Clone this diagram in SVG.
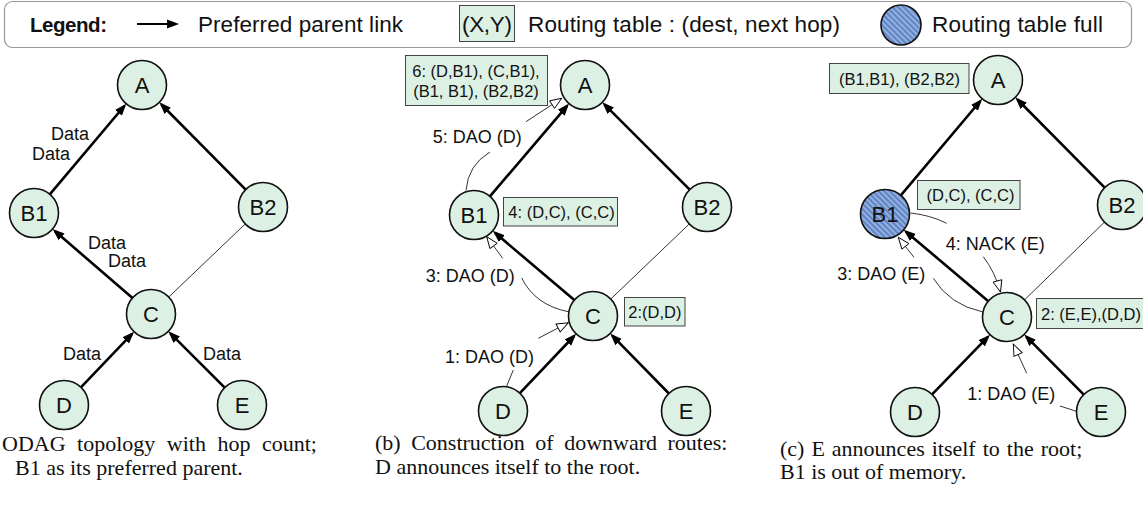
<svg xmlns="http://www.w3.org/2000/svg" width="1143" height="506" viewBox="0 0 1143 506">
<defs>
<style>
.node circle{fill:#ddf0e4;stroke:#111;stroke-width:1.6}
.node text{font-family:"Liberation Sans",Arial,sans-serif;font-size:22px;text-anchor:middle;fill:#111}
.full circle{fill:url(#hatch)}
.pp{stroke:#000;stroke-width:2.6;fill:none;marker-end:url(#fa)}
.thin{stroke:#000;stroke-width:0.8;fill:none}
.msg{stroke:#000;stroke-width:0.8;fill:none}
.msga{marker-end:url(#ha)}
.lbl{font-family:"Liberation Sans",Arial,sans-serif;font-size:18px;fill:#111}
.tbl rect{fill:#ddf0e4;stroke:#444;stroke-width:1}
.tbl text{font-family:"Liberation Sans",Arial,sans-serif;font-size:16.5px;fill:#111}
.cap{font-family:"Liberation Serif","Times New Roman",serif;font-size:22px;fill:#111}
.leg{font-family:"Liberation Sans",Arial,sans-serif;font-size:22.5px;fill:#111}
</style>
<marker id="fa" markerUnits="userSpaceOnUse" markerWidth="13" markerHeight="10" refX="9" refY="5" orient="auto"><path d="M0,0.5 L12,5 L0,9.5 Z" fill="#000"/></marker>
<marker id="ha" markerUnits="userSpaceOnUse" markerWidth="14" markerHeight="11" refX="12.5" refY="5.5" orient="auto"><path d="M1,1 L12.5,5.5 L1,10 Z" fill="#fff" stroke="#000" stroke-width="0.9"/></marker>
<pattern id="hatch" patternUnits="userSpaceOnUse" width="4" height="4" patternTransform="rotate(45)"><rect width="4" height="4" fill="#8db1ec"/><line x1="0" y1="2" x2="4" y2="2" stroke="#2a3d66" stroke-width="0.8"/></pattern>
</defs>
<rect width="1143" height="506" fill="#fff"/>

<g id="legend">
<rect x="4.5" y="1.5" width="1127" height="46" rx="8" fill="#fff" stroke="#999" stroke-width="1.2"/>
<text x="30" y="32" font-family="Liberation Sans, Arial, sans-serif" font-size="20.5" font-weight="bold" fill="#111" textLength="77">Legend:</text>
<line x1="137" y1="24" x2="176" y2="24" stroke="#000" stroke-width="2" marker-end="url(#fa)"/>
<text class="leg" x="198" y="32" textLength="205">Preferred parent link</text>
<rect x="459.5" y="5.5" width="55" height="36" fill="#ddf0e4" stroke="#444"/>
<text class="leg" x="462" y="32" textLength="50">(X,Y)</text>
<text class="leg" x="528" y="32" textLength="312">Routing table : (dest, next hop)</text>
<circle cx="901" cy="25" r="20" fill="url(#hatch)" stroke="#111" stroke-width="1.6"/>
<text class="leg" x="932" y="32" textLength="171">Routing table full</text>
</g>

<g id="connectors">
<line class="pp" x1="49.8" y1="194.3" x2="124.3" y2="106"/>
<line class="pp" x1="245.7" y1="189.6" x2="161.4" y2="104.5"/>
<line class="pp" x1="132.5" y1="298" x2="54.8" y2="231"/>
<line class="thin" x1="168.7" y1="297.1" x2="245.3" y2="223.9"/>
<line class="pp" x1="80.9" y1="387.3" x2="132" y2="333.9"/>
<line class="pp" x1="224.7" y1="387.7" x2="170.4" y2="333.4"/>
<line class="pp" x1="489.9" y1="196.4" x2="567.1" y2="105.9"/>
<line class="pp" x1="689.7" y1="189.7" x2="604.4" y2="104.4"/>
<line class="pp" x1="574.3" y1="300.1" x2="495" y2="232.8"/>
<line class="thin" x1="610.7" y1="299.1" x2="689.3" y2="223.9"/>
<line class="pp" x1="519.9" y1="393.2" x2="574.1" y2="336"/>
<line class="pp" x1="668.9" y1="393.5" x2="612.3" y2="335.7"/>
<path class="msg" d="M506.7,386 L513.3,370"/>
<path class="msg msga" d="M538.3,338.3 L568.3,322.7"/>
<path class="msg" d="M521.7,278 Q535,305 568.3,311.7"/>
<path class="msg msga" d="M502.7,258.3 L486.7,236.7"/>
<path class="msg" d="M466,190.5 Q468,165 490,152"/>
<path class="msg msga" d="M526,121.7 L561.7,98.3"/>
<line class="pp" x1="900.8" y1="195.3" x2="980.3" y2="101"/>
<line class="pp" x1="1104.7" y1="187.6" x2="1017.4" y2="99.5"/>
<line class="pp" x1="988.3" y1="301.2" x2="906" y2="231.7"/>
<line class="thin" x1="1024.5" y1="299.9" x2="1104.5" y2="222.1"/>
<line class="pp" x1="932.1" y1="394.4" x2="987.9" y2="336.8"/>
<line class="pp" x1="1083.8" y1="394.6" x2="1026.3" y2="336.6"/>
<path class="msg" d="M1077,411.5 L1060,406"/>
<path class="msg msga" d="M1026.7,373.3 L1013.3,344"/>
<path class="msg" d="M933.3,278.3 Q950,305 982,311.7"/>
<path class="msg msga" d="M914,257.3 L898.3,237.3"/>
<path class="msg" d="M910.5,213 Q930,215 946.7,223.3"/>
<path class="msg msga" d="M983.3,256.7 Q995,272 1000.5,292"/>
</g>

<g id="labels">
<text class="lbl" x="51" y="140">Data</text>
<text class="lbl" x="32" y="160">Data</text>
<text class="lbl" x="88" y="249">Data</text>
<text class="lbl" x="108" y="267">Data</text>
<text class="lbl" x="63" y="360">Data</text>
<text class="lbl" x="203" y="360">Data</text>
<text class="lbl" x="432.7" y="143.3">5: DAO (D)</text>
<text class="lbl" x="425.7" y="281.7">3: DAO (D)</text>
<text class="lbl" x="445" y="362.7">1: DAO (D)</text>
<text class="lbl" x="945.7" y="250">4: NACK (E)</text>
<text class="lbl" x="837.3" y="280">3: DAO (E)</text>
<text class="lbl" x="967.3" y="400">1: DAO (E)</text>
</g>

<g id="tables" class="tbl">
<g id="tb-b-A"><rect x="405.5" y="55.5" width="142" height="50"/><text x="476" y="77" text-anchor="middle">6: (D,B1), (C,B1),</text><text x="476" y="97" text-anchor="middle">(B1, B1), (B2,B2)</text></g>
<g id="tb-b-B1"><rect x="503.5" y="197.5" width="114" height="28.5"/><text x="508.3" y="217.8">4: (D,C), (C,C)</text></g>
<g id="tb-b-C"><rect x="624.5" y="297.5" width="60.5" height="28.5"/><text x="628.3" y="317.8">2:(D,D)</text></g>
<g id="tb-c-A"><rect x="829.5" y="63.5" width="139.5" height="30"/><text x="839" y="84.5">(B1,B1), (B2,B2)</text></g>
<g id="tb-c-B1"><rect x="917.5" y="180.5" width="102.5" height="29"/><text x="926.5" y="201">(D,C), (C,C)</text></g>
<g id="tb-c-C"><rect x="1036.5" y="298.5" width="110" height="30"/><text x="1041" y="319.5">2: (E,E),(D,D)</text></g>
</g>

<g id="a-A" class="node"><circle cx="142" cy="85" r="24.5"/><text x="142" y="93">A</text></g>
<g id="a-B1" class="node"><circle cx="34" cy="213" r="24.5"/><text x="34" y="221">B1</text></g>
<g id="a-B2" class="node"><circle cx="263" cy="207" r="24.5"/><text x="263" y="215">B2</text></g>
<g id="a-C" class="node"><circle cx="151" cy="314" r="24.5"/><text x="151" y="322">C</text></g>
<g id="a-D" class="node"><circle cx="64" cy="405" r="24.5"/><text x="64" y="413">D</text></g>
<g id="a-E" class="node"><circle cx="242" cy="405" r="24.5"/><text x="242" y="413">E</text></g>

<g id="b-A" class="node"><circle cx="585" cy="85" r="24.5"/><text x="585" y="93">A</text></g>
<g id="b-B1" class="node"><circle cx="474" cy="215" r="24.5"/><text x="474" y="223">B1</text></g>
<g id="b-B2" class="node"><circle cx="707" cy="207" r="24.5"/><text x="707" y="215">B2</text></g>
<g id="b-C" class="node"><circle cx="593" cy="316" r="24.5"/><text x="593" y="324">C</text></g>
<g id="b-D" class="node"><circle cx="503" cy="411" r="24.5"/><text x="503" y="419">D</text></g>
<g id="b-E" class="node"><circle cx="686" cy="411" r="24.5"/><text x="686" y="419">E</text></g>

<g id="c-A" class="node"><circle cx="998" cy="80" r="24.5"/><text x="998" y="88">A</text></g>
<g id="c-B1" class="node full"><circle cx="885" cy="214" r="24.5"/><text x="885" y="222">B1</text></g>
<g id="c-B2" class="node"><circle cx="1122" cy="205" r="24.5"/><text x="1122" y="213">B2</text></g>
<g id="c-C" class="node"><circle cx="1007" cy="317" r="24.5"/><text x="1007" y="325">C</text></g>
<g id="c-D" class="node"><circle cx="915" cy="412" r="24.5"/><text x="915" y="420">D</text></g>
<g id="c-E" class="node"><circle cx="1101" cy="412" r="24.5"/><text x="1101" y="420">E</text></g>

<g id="captions">
<text class="cap" x="2" y="451" word-spacing="6">ODAG topology with hop count;</text>
<text class="cap" x="15" y="475">B1 as its preferred parent.</text>
<text class="cap" x="375" y="450" word-spacing="5">(b) Construction of downward routes:</text>
<text class="cap" x="375" y="474">D announces itself to the root.</text>
<text class="cap" x="780" y="456" word-spacing="1.5">(c) E announces itself to the root;</text>
<text class="cap" x="780" y="479" font-size="20">B1 is out of memory.</text>
</g>
</svg>
